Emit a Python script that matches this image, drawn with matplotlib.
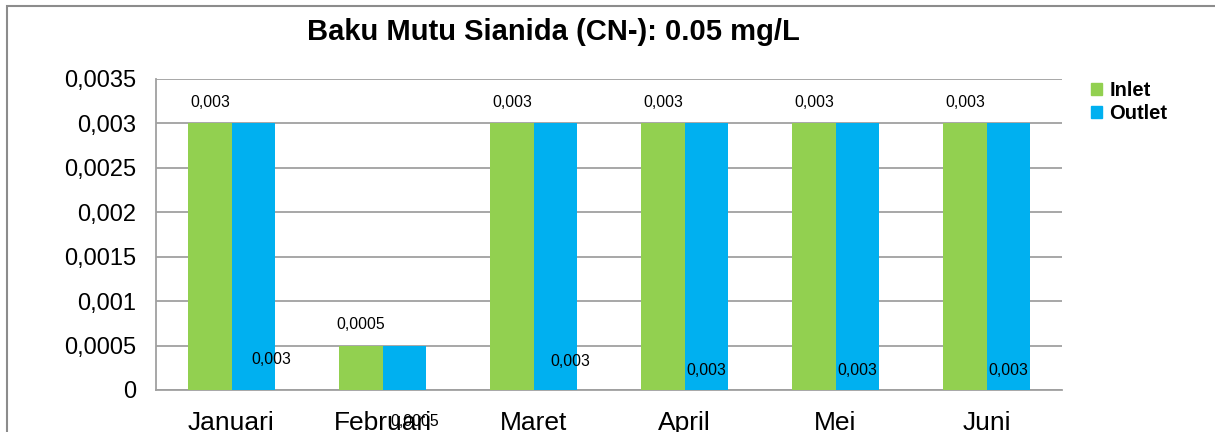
import matplotlib
matplotlib.use("Agg")
import matplotlib.pyplot as plt
from matplotlib.patches import Rectangle, Patch
import numpy as np

categories = ["Januari", "Februari", "Maret", "April", "Mei", "Juni"]
inlet = [0.003, 0.0005, 0.003, 0.003, 0.003, 0.003]
outlet = [0.003, 0.0005, 0.003, 0.003, 0.003, 0.003]
label_texts_inlet = ["0,003", "0,0005", "0,003", "0,003", "0,003", "0,003"]
label_texts_outlet = ["0,003", "0,0005", "0,003", "0,003", "0,003", "0,003"]
yticks = [0, 0.0005, 0.001, 0.0015, 0.002, 0.0025, 0.003, 0.0035]
ytick_labels = ["0", "0,0005", "0,001", "0,0015", "0,002", "0,0025", "0,003", "0,0035"]
title = "Baku Mutu Sianida (CN-): 0.05 mg/L"

# style: odd outlet label placement (x offset in category units, y position in data units)
out_lbl_dx = [0.12, 0.07, 0.10, 0.0, 0.0, 0.0]
out_lbl_y = [0.000345, -0.00036, 0.000318, 0.000225, 0.000225, 0.000225]

GREEN = "#92D050"
BLUE = "#00B0F0"
GRID = "#A0A0A0"

plt.rcParams['font.family'] = ['Liberation Sans', 'DejaVu Sans']

fig = plt.figure(figsize=(12.15, 4.32), dpi=100)
ax = fig.add_axes([156/1215, 1-390/432, (1062-156)/1215, (390-79)/432])

x = np.arange(len(categories))
w = 0.285
ax.bar(x - w/2, inlet, width=w, color=GREEN, zorder=3)
ax.bar(x + w/2, outlet, width=w, color=BLUE, zorder=3)

ax.set_xlim(-0.5, len(categories) - 0.5)
ax.set_ylim(0, 0.0035)
ax.set_yticks(yticks)
ax.set_yticklabels(ytick_labels, fontsize=17)
ax.set_xticks(x)
ax.set_xticklabels(categories, fontsize=19)
ax.tick_params(axis='both', length=0)
ax.tick_params(axis='y', pad=14)
ax.tick_params(axis='x', pad=15)

ax.grid(axis='y', color=GRID, linewidth=1.3, zorder=0)
for s in ['top', 'right']:
    ax.spines[s].set_visible(False)
ax.spines['left'].set_color(GRID)
ax.spines['left'].set_linewidth(1.3)
ax.spines['bottom'].set_color(GRID)
ax.spines['bottom'].set_linewidth(1.3)

for i in range(len(categories)):
    ax.annotate(label_texts_inlet[i], (x[i] - w/2, inlet[i]), xytext=(0, 9.5),
                textcoords='offset points', ha='center', va='bottom', fontsize=11.3, zorder=5)
    ax.text(x[i] + w/2 + out_lbl_dx[i], out_lbl_y[i], label_texts_outlet[i],
            ha='center', va='center', fontsize=11.3, zorder=5, clip_on=False)

fig.text(553/1215, 1-32/432, title, ha='center', va='center', fontsize=21, fontweight='bold')

handles = [Patch(color=GREEN, label='Inlet'), Patch(color=BLUE, label='Outlet')]
leg = fig.legend(handles=handles, loc='upper left', bbox_to_anchor=(1083/1215, 1-73/432),
                 frameon=False, handlelength=0.55, handleheight=0.55, handletextpad=0.35,
                 labelspacing=0.2, borderaxespad=0, prop={'weight': 'bold', 'size': 14.5})

fig.add_artist(Rectangle((7/1215, -0.05), 1.1, 1.05 - 6/432, transform=fig.transFigure,
                         fill=False, edgecolor='#8C8C8C', linewidth=1.5))

fig.savefig("out.png", dpi=100)
